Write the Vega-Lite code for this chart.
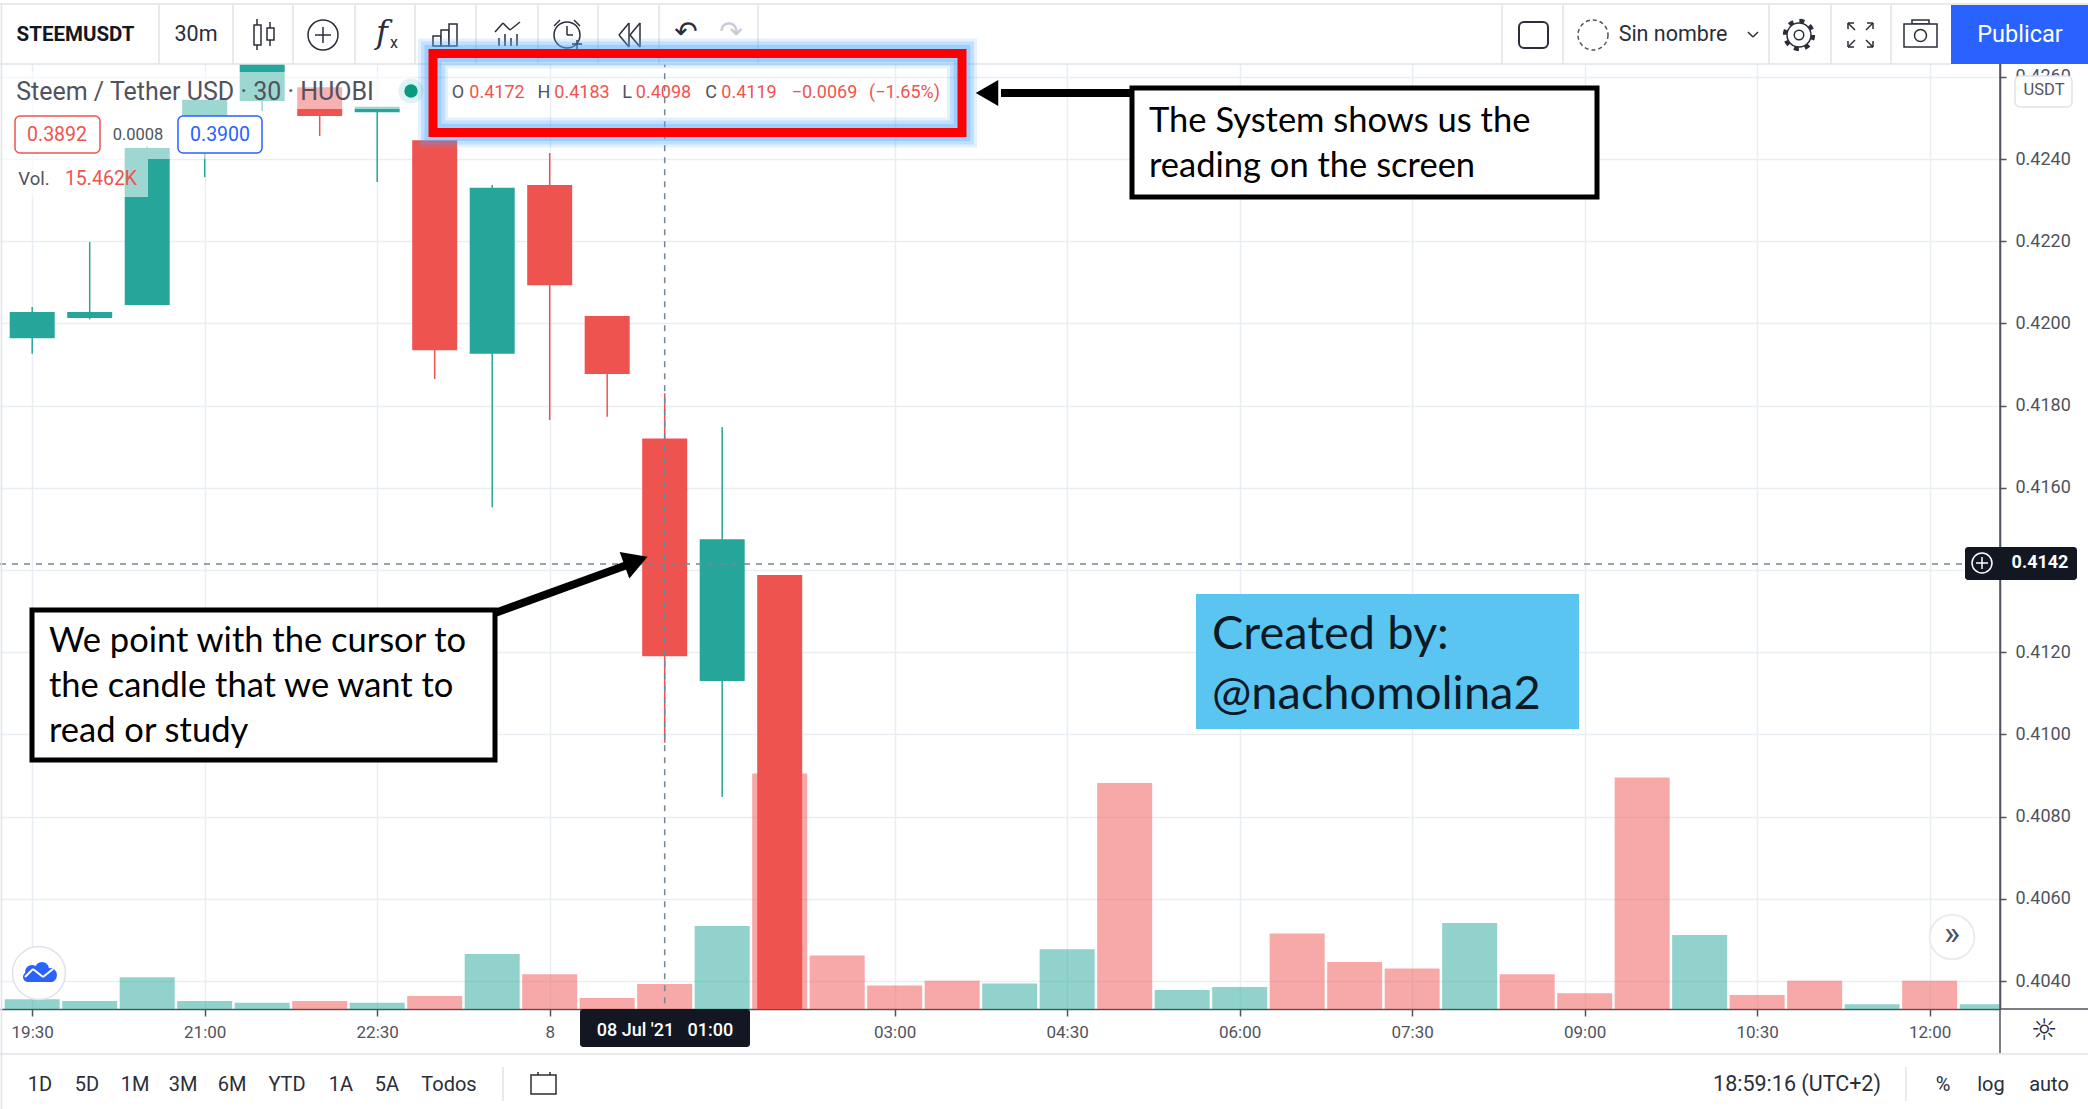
{
"$schema":"https://vega.github.io/schema/vega-lite/v6.json",
"width":2000,"height":1009,
"autosize":{"type":"none"},
"padding":{"left":0,"top":0,"right":88,"bottom":100},
"background":"#ffffff",
"config":{"view":{"stroke":null},"text":{"font":"Roboto","baseline":"middle"},"rule":{"strokeCap":"butt"}},
"datasets":{
"candles":[
{"time":"2021-07-07T19:30:00Z","open":0.41964,"high":0.4204,"low":0.41926,"close":0.42028,"dir":"up"},
{"time":"2021-07-07T20:00:00Z","open":0.42013,"high":0.42198,"low":0.4201,"close":0.42028,"dir":"up"},
{"time":"2021-07-07T20:30:00Z","open":0.42045,"high":0.4243,"low":0.42045,"close":0.42427,"dir":"up"},
{"time":"2021-07-07T21:00:00Z","open":0.425,"high":0.42544,"low":0.42356,"close":0.42544,"dir":"up"},
{"time":"2021-07-07T21:30:00Z","open":0.42541,"high":0.4272,"low":0.42517,"close":0.4272,"dir":"up"},
{"time":"2021-07-07T22:00:00Z","open":0.42575,"high":0.42575,"low":0.42456,"close":0.42505,"dir":"down"},
{"time":"2021-07-07T22:30:00Z","open":0.42514,"high":0.42527,"low":0.42344,"close":0.42527,"dir":"up"},
{"time":"2021-07-07T23:00:00Z","open":0.42446,"high":0.42446,"low":0.41865,"close":0.41935,"dir":"down"},
{"time":"2021-07-07T23:30:00Z","open":0.41926,"high":0.42337,"low":0.41553,"close":0.4233,"dir":"up"},
{"time":"2021-07-08T00:00:00Z","open":0.42337,"high":0.42415,"low":0.41765,"close":0.42093,"dir":"down"},
{"time":"2021-07-08T00:30:00Z","open":0.42018,"high":0.42018,"low":0.41773,"close":0.41877,"dir":"down"},
{"time":"2021-07-08T01:00:00Z","open":0.4172,"high":0.4183,"low":0.4098,"close":0.4119,"dir":"down"},
{"time":"2021-07-08T01:30:00Z","open":0.4113,"high":0.41748,"low":0.40848,"close":0.41475,"dir":"up"},
{"time":"2021-07-08T02:00:00Z","open":0.41388,"high":0.41388,"low":0.4,"close":0.4,"dir":"down"}
],
"volumes":[
{"time":"2021-07-07T19:30:00Z","vol":6.0,"dir":"up"},
{"time":"2021-07-07T20:00:00Z","vol":4.9,"dir":"up"},
{"time":"2021-07-07T20:30:00Z","vol":19.6,"dir":"up"},
{"time":"2021-07-07T21:00:00Z","vol":4.9,"dir":"up"},
{"time":"2021-07-07T21:30:00Z","vol":3.9,"dir":"up"},
{"time":"2021-07-07T22:00:00Z","vol":4.9,"dir":"down"},
{"time":"2021-07-07T22:30:00Z","vol":3.9,"dir":"up"},
{"time":"2021-07-07T23:00:00Z","vol":8.0,"dir":"down"},
{"time":"2021-07-07T23:30:00Z","vol":34.0,"dir":"up"},
{"time":"2021-07-08T00:00:00Z","vol":21.4,"dir":"down"},
{"time":"2021-07-08T00:30:00Z","vol":6.8,"dir":"down"},
{"time":"2021-07-08T01:00:00Z","vol":15.462,"dir":"down"},
{"time":"2021-07-08T01:30:00Z","vol":51.3,"dir":"up"},
{"time":"2021-07-08T02:00:00Z","vol":145.5,"dir":"down"},
{"time":"2021-07-08T02:30:00Z","vol":33.0,"dir":"down"},
{"time":"2021-07-08T03:00:00Z","vol":14.6,"dir":"down"},
{"time":"2021-07-08T03:30:00Z","vol":17.5,"dir":"down"},
{"time":"2021-07-08T04:00:00Z","vol":15.7,"dir":"up"},
{"time":"2021-07-08T04:30:00Z","vol":36.9,"dir":"up"},
{"time":"2021-07-08T05:00:00Z","vol":139.7,"dir":"down"},
{"time":"2021-07-08T05:30:00Z","vol":11.7,"dir":"up"},
{"time":"2021-07-08T06:00:00Z","vol":13.6,"dir":"up"},
{"time":"2021-07-08T06:30:00Z","vol":46.6,"dir":"down"},
{"time":"2021-07-08T07:00:00Z","vol":29.0,"dir":"down"},
{"time":"2021-07-08T07:30:00Z","vol":25.1,"dir":"down"},
{"time":"2021-07-08T08:00:00Z","vol":53.1,"dir":"up"},
{"time":"2021-07-08T08:30:00Z","vol":21.4,"dir":"down"},
{"time":"2021-07-08T09:00:00Z","vol":9.7,"dir":"down"},
{"time":"2021-07-08T09:30:00Z","vol":143.0,"dir":"down"},
{"time":"2021-07-08T10:00:00Z","vol":45.7,"dir":"up"},
{"time":"2021-07-08T10:30:00Z","vol":8.7,"dir":"down"},
{"time":"2021-07-08T11:00:00Z","vol":17.5,"dir":"down"},
{"time":"2021-07-08T11:30:00Z","vol":2.9,"dir":"up"},
{"time":"2021-07-08T12:00:00Z","vol":17.5,"dir":"down"},
{"time":"2021-07-08T12:30:00Z","vol":2.9,"dir":"up"}
]
},
"resolve":{"scale":{"x":"independent","y":"independent","color":"independent"}},
"layer":[
{"data":{"name":"volumes"},
 "mark":{"type":"bar","size":55,"opacity":0.5,"clip":true},
 "encoding":{
  "x":{"field":"time","type":"temporal","scale":{"type":"utc","padding":0,"domain":["2021-07-07T19:13:12Z","2021-07-08T12:36:42Z"]},"axis":null},
  "y":{"field":"vol","type":"quantitative","stack":null,"scale":{"domain":[0,623.6]},"axis":null},
  "color":{"field":"dir","type":"nominal","scale":{"domain":["up","down"],"range":["#26a69a","#ef5350"]},"legend":null}
 }},
{"encoding":{
  "x":{"field":"time","type":"temporal","title":null,"scale":{"type":"utc","padding":0,"domain":["2021-07-07T19:13:12Z","2021-07-08T12:36:42Z"]},
   "axis":{"orient":"bottom","title":null,"values":["2021-07-07T19:30:00Z","2021-07-07T21:00:00Z","2021-07-07T22:30:00Z","2021-07-08T00:00:00Z","2021-07-08T03:00:00Z","2021-07-08T04:30:00Z","2021-07-08T06:00:00Z","2021-07-08T07:30:00Z","2021-07-08T09:00:00Z","2021-07-08T10:30:00Z","2021-07-08T12:00:00Z"],
    "labelExpr":"utcFormat(datum.value,'%H:%M')=='00:00'?'8':utcFormat(datum.value,'%H:%M')",
    "grid":true,"gridColor":"#e8eef4","gridWidth":1.5,"domainColor":"#50535e","domainWidth":1.5,"tickColor":"#50535e","tickSize":7,"tickWidth":1.5,
    "labelFont":"Roboto","labelFontSize":17,"labelColor":"#50535e","labelPadding":8,"labelOverlap":false,"labelFlush":false,"labelBound":false}},
  "y":{"type":"quantitative","scale":{"domain":[0.40332,0.42787]}}
 },
 "layer":[
 {"data":{"name":"candles"},
  "mark":{"type":"rule","strokeWidth":1.5,"clip":true},
  "encoding":{
   "y":{"field":"low","type":"quantitative","title":null,"scale":{"domain":[0.40332,0.42787]},
    "axis":{"orient":"right","title":null,"values":[0.404,0.406,0.408,0.41,0.412,0.414,0.416,0.418,0.42,0.422,0.424,0.426],"labelExpr":"abs(datum.value-0.414)<0.0001?'':format(datum.value,'.4f')",
     "grid":true,"gridColor":"#e8eef4","gridWidth":1.5,"domainColor":"#50535e","domainWidth":1.5,"tickColor":"#50535e","tickSize":6,"tickWidth":1.5,
     "labelFont":"Roboto","labelFontSize":18,"labelColor":"#50535e","labelPadding":9,"labelOverlap":false,"labelFlush":false,"labelBound":false}},
   "y2":{"field":"high"},
   "color":{"field":"dir","type":"nominal","scale":{"domain":["up","down"],"range":["#26a69a","#ef5350"]},"legend":null}
  }},
 {"data":{"name":"candles"},
  "mark":{"type":"bar","size":45,"clip":true},
  "encoding":{
   "y":{"field":"open","type":"quantitative","scale":{"domain":[0.40332,0.42787]}},
   "y2":{"field":"close"},
   "color":{"field":"dir","type":"nominal","scale":{"domain":["up","down"],"range":["#26a69a","#ef5350"]},"legend":null}
  }},
 {"data":{"values":[{"time":"2021-07-08T01:00:00Z","price":0.42784,"price2":0.40332}]},
  "mark":{"type":"rule","strokeWidth":1.5,"color":"#758696","strokeDash":[6,6]},
  "encoding":{"y":{"field":"price","type":"quantitative","scale":{"domain":[0.40332,0.42787]}},"y2":{"field":"price2"}}},
 {"data":{"values":[{"time":"2021-07-07T19:13:12Z","time2":"2021-07-08T12:36:42Z","price":0.41415}]},
  "mark":{"type":"rule","strokeWidth":1.5,"color":"#758696","strokeDash":[6,6]},
  "encoding":{"x2":{"field":"time2"},"y":{"field":"price","type":"quantitative","scale":{"domain":[0.40332,0.42787]}}}}
 ]},
{"encoding":{
  "x":{"field":"u","type":"quantitative","scale":{"domain":[0,2000],"padding":0},"axis":null},
  "y":{"field":"v","type":"quantitative","scale":{"domain":[1009,0],"padding":0},"axis":null}
 },
 "layer":[
 {"data":{"values":[{"u":0,"u2":2088,"v":0,"v2":64}]},"mark":{"type":"rect","fill":"#ffffff"},"encoding":{"x2":{"field":"u2"},"y2":{"field":"v2"}}},
 {"data":{"values":[{"u":0,"u2":290,"v":72,"v2":117},{"u":290,"u2":415,"v":72,"v2":109},{"u":0,"u2":265,"v":117,"v2":159},{"u":0,"u2":148,"v":159,"v2":197}]},"mark":{"type":"rect","fill":"#ffffff","opacity":0.55},"encoding":{"x2":{"field":"u2"},"y2":{"field":"v2"}}},
 {"data":{"values":[
  {"u":0,"u2":2088,"v":4,"v2":4},{"u":0,"u2":1951,"v":64,"v2":64},{"u":0,"u2":2088,"v":1054,"v2":1054},{"u":1.5,"u2":1.5,"v":4,"v2":1109},
  {"u":159,"u2":159,"v":5,"v2":64},{"u":233,"u2":233,"v":5,"v2":64},{"u":293,"u2":293,"v":5,"v2":64},{"u":355,"u2":355,"v":5,"v2":64},{"u":415,"u2":415,"v":5,"v2":64},{"u":476,"u2":476,"v":5,"v2":64},{"u":538,"u2":538,"v":5,"v2":64},{"u":598,"u2":598,"v":5,"v2":64},{"u":659,"u2":659,"v":5,"v2":64},{"u":758,"u2":758,"v":5,"v2":64},
  {"u":1502,"u2":1502,"v":5,"v2":64},{"u":1563,"u2":1563,"v":5,"v2":64},{"u":1769,"u2":1769,"v":5,"v2":64},{"u":1831,"u2":1831,"v":5,"v2":64},{"u":1891,"u2":1891,"v":5,"v2":64},
  {"u":503,"u2":503,"v":1067,"v2":1101},{"u":1906,"u2":1906,"v":1067,"v2":1101}
  ]},"mark":{"type":"rule","stroke":"#e0e3eb","strokeWidth":1.5},"encoding":{"x2":{"field":"u2"},"y2":{"field":"v2"}}},
 {"data":{"values":[{"u":2000,"u2":2000,"v":64,"v2":1053},{"u":2000,"u2":2088,"v":1009,"v2":1009}]},"mark":{"type":"rule","stroke":"#50535e","strokeWidth":1.5},"encoding":{"x2":{"field":"u2"},"y2":{"field":"v2"}}},
 {"data":{"values":[
  {"u":257,"u2":257,"v":19,"v2":50},{"u":270,"u2":270,"v":22,"v2":46},
  {"u":323,"u2":323,"v":27,"v2":43},{"u":315,"u2":331,"v":35,"v2":35},
  {"u":499,"u2":499,"v":38,"v2":46},{"u":505,"u2":505,"v":34,"v2":46},{"u":511,"u2":511,"v":38,"v2":46},{"u":517,"u2":517,"v":34,"v2":46},
  {"u":495,"u2":503,"v":32,"v2":23},{"u":503,"u2":510,"v":23,"v2":30},{"u":510,"u2":520,"v":30,"v2":22},
  {"u":577,"u2":577,"v":40,"v2":49},{"u":572,"u2":582,"v":44,"v2":44},{"u":567,"u2":567,"v":26,"v2":35},{"u":567,"u2":573,"v":35,"v2":35},{"u":554,"u2":560,"v":26,"v2":20},{"u":574,"u2":580,"v":20,"v2":26},
  {"u":619,"u2":629,"v":35,"v2":23},{"u":619,"u2":629,"v":35,"v2":47},{"u":629,"u2":629,"v":23,"v2":47},{"u":630,"u2":640,"v":35,"v2":23},{"u":630,"u2":640,"v":35,"v2":47},{"u":640,"u2":640,"v":23,"v2":47},
  {"u":1748,"u2":1753,"v":32,"v2":37},{"u":1753,"u2":1758,"v":37,"v2":32},
  {"u":1848,"u2":1848,"v":23,"v2":29},{"u":1848,"u2":1854,"v":23,"v2":23},{"u":1848,"u2":1855,"v":23,"v2":30},
  {"u":1873,"u2":1873,"v":23,"v2":29},{"u":1867,"u2":1873,"v":23,"v2":23},{"u":1866,"u2":1873,"v":30,"v2":23},
  {"u":1848,"u2":1848,"v":41,"v2":47},{"u":1848,"u2":1854,"v":47,"v2":47},{"u":1848,"u2":1855,"v":47,"v2":40},
  {"u":1873,"u2":1873,"v":41,"v2":47},{"u":1867,"u2":1873,"v":47,"v2":47},{"u":1866,"u2":1873,"v":40,"v2":47},
  {"u":531,"u2":556,"v":1081,"v2":1081},{"u":538,"u2":538,"v":1072,"v2":1078},{"u":550,"u2":550,"v":1072,"v2":1078},{"u":531,"u2":545,"v":1089,"v2":1089}
  ]},"mark":{"type":"rule","stroke":"#2a2e39","strokeWidth":1.5},"encoding":{"x2":{"field":"u2"},"y2":{"field":"v2"}}},
 {"data":{"values":[
  {"u":254,"u2":261,"v":25,"v2":45},{"u":267,"u2":274,"v":28,"v2":40},
  {"u":433,"u2":441,"v":36,"v2":46},{"u":441,"u2":449,"v":30,"v2":46},{"u":449,"u2":457,"v":24,"v2":46},
  {"u":1912,"u2":1929,"v":20,"v2":24},{"u":1904,"u2":1937,"v":24,"v2":47},
  {"u":531,"u2":556,"v":1075,"v2":1094}
  ]},"mark":{"type":"rect","fill":"#ffffff","stroke":"#2a2e39","strokeWidth":1.5},"encoding":{"x2":{"field":"u2"},"y2":{"field":"v2"}}},
 {"data":{"values":[{"u":1519,"u2":1548,"v":22,"v2":48}]},"mark":{"type":"rect","fill":"#ffffff","stroke":"#2a2e39","strokeWidth":2,"cornerRadius":5},"encoding":{"x2":{"field":"u2"},"y2":{"field":"v2"}}},
 {"data":{"values":[{"u":323,"v":35}]},"mark":{"type":"point","shape":"circle","size":900,"stroke":"#2a2e39","strokeWidth":1.5,"opacity":1}},
 {"data":{"values":[{"u":1920.5,"v":35.5}]},"mark":{"type":"point","shape":"circle","size":144,"stroke":"#2a2e39","strokeWidth":1.5,"opacity":1}},
 {"data":{"values":[{"u":567,"v":35}]},"mark":{"type":"point","shape":"circle","size":676,"stroke":"#2a2e39","strokeWidth":1.5,"opacity":1}},
 {"data":{"values":[{"u":1593,"v":35}]},"mark":{"type":"point","shape":"circle","size":900,"stroke":"#50535e","strokeWidth":1.5,"strokeDash":[4,3],"opacity":1}},
 {"data":{"values":[{"u":1799,"v":35}]},"mark":{"type":"point","shape":"circle","size":576,"stroke":"#2a2e39","strokeWidth":1.5,"opacity":1}},
 {"data":{"values":[{"u":1799,"v":35}]},"mark":{"type":"point","shape":"circle","size":90,"stroke":"#2a2e39","strokeWidth":1.5,"opacity":1}},
 {"data":{"values":[{"u":1799,"v":35}]},"mark":{"type":"point","shape":"circle","size":800,"stroke":"#2a2e39","strokeWidth":4,"strokeDash":[5,6.1],"opacity":1}},
 {"data":{"values":[{"u":2015,"u2":2072,"v":76,"v2":107}]},"mark":{"type":"rect","fill":"#ffffff","stroke":"#e0e3eb","strokeWidth":1.5,"cornerRadius":5},"encoding":{"x2":{"field":"u2"},"y2":{"field":"v2"}}},
 {"data":{"values":[{"u":15,"u2":100,"v":116,"v2":153}]},"mark":{"type":"rect","fill":"#ffffff","stroke":"#ef5350","strokeWidth":1.5,"cornerRadius":5},"encoding":{"x2":{"field":"u2"},"y2":{"field":"v2"}}},
 {"data":{"values":[{"u":178,"u2":262,"v":116,"v2":153}]},"mark":{"type":"rect","fill":"#ffffff","stroke":"#2962ff","strokeWidth":1.5,"cornerRadius":5},"encoding":{"x2":{"field":"u2"},"y2":{"field":"v2"}}},
 {"data":{"values":[{"u":1951,"u2":2088,"v":5,"v2":64}]},"mark":{"type":"rect","fill":"#2962ff"},"encoding":{"x2":{"field":"u2"},"y2":{"field":"v2"}}},
 {"data":{"values":[{"u":580,"u2":750,"v":1009,"v2":1047},{"u":1965,"u2":2077,"v":547,"v2":580}]},"mark":{"type":"rect","fill":"#131722","cornerRadius":3},"encoding":{"x2":{"field":"u2"},"y2":{"field":"v2"}}},
 {"data":{"values":[{"u":1982,"v":563}]},"mark":{"type":"point","shape":"circle","size":400,"stroke":"#ffffff","strokeWidth":1.5,"opacity":1}},
 {"data":{"values":[{"u":1976,"u2":1988,"v":563,"v2":563},{"u":1982,"u2":1982,"v":557,"v2":569}]},"mark":{"type":"rule","stroke":"#ffffff","strokeWidth":1.5},"encoding":{"x2":{"field":"u2"},"y2":{"field":"v2"}}},
 {"data":{"values":[{"u":411,"v":91}]},"mark":{"type":"point","shape":"circle","size":625,"filled":true,"color":"#26a69a","opacity":0.14}},
 {"data":{"values":[{"u":411,"v":91}]},"mark":{"type":"point","shape":"circle","size":180,"filled":true,"color":"#089981","opacity":1}},
 {"data":{"values":[{"u":39,"v":973}]},"mark":{"type":"point","shape":"circle","size":2800,"filled":true,"fill":"#ffffff","stroke":"#e0e3eb","strokeWidth":1.5,"opacity":1}},
 {"data":{"values":[{"u":1952,"v":937}]},"mark":{"type":"point","shape":"circle","size":2000,"filled":true,"fill":"#ffffff","stroke":"#e9ecf1","strokeWidth":2,"opacity":1}},
 {"data":{"values":[{"u":23,"u2":56,"v":972,"v2":982}]},"mark":{"type":"rect","fill":"#2962ff","cornerRadius":5},"encoding":{"x2":{"field":"u2"},"y2":{"field":"v2"}}},
 {"data":{"values":[{"u":32,"v":972},{"u":42,"v":969},{"u":50,"v":975}]},"mark":{"type":"point","shape":"circle","size":196,"filled":true,"color":"#2962ff","opacity":1}},
 {"data":{"values":[{"u":25,"u2":33,"v":977,"v2":969},{"u":33,"u2":43,"v":969,"v2":977},{"u":43,"u2":53,"v":977,"v2":969}]},"mark":{"type":"rule","stroke":"#ffffff","strokeWidth":2},"encoding":{"x2":{"field":"u2"},"y2":{"field":"v2"}}},
 {"data":{"values":[{"u":433,"u2":962,"v":53.5,"v2":132.5}]},"mark":{"type":"rect","fill":"transparent","stroke":"#4da6ff","strokeWidth":30,"opacity":0.15},"encoding":{"x2":{"field":"u2"},"y2":{"field":"v2"}}},
 {"data":{"values":[{"u":433,"u2":962,"v":53.5,"v2":132.5}]},"mark":{"type":"rect","fill":"transparent","stroke":"#4da6ff","strokeWidth":24,"opacity":0.22},"encoding":{"x2":{"field":"u2"},"y2":{"field":"v2"}}},
 {"data":{"values":[{"u":433,"u2":962,"v":53.5,"v2":132.5}]},"mark":{"type":"rect","fill":"transparent","stroke":"#4da6ff","strokeWidth":17,"opacity":0.3},"encoding":{"x2":{"field":"u2"},"y2":{"field":"v2"}}},
 {"data":{"values":[{"u":433,"u2":962,"v":53.5,"v2":132.5}]},"mark":{"type":"rect","fill":"transparent","stroke":"#ff0000","strokeWidth":9},"encoding":{"x2":{"field":"u2"},"y2":{"field":"v2"}}},
 {"data":{"values":[{"u":1001,"u2":1132,"v":93,"v2":93},{"u":495,"u2":638,"v":613,"v2":561}]},"mark":{"type":"rule","stroke":"#000000","strokeWidth":8},"encoding":{"x2":{"field":"u2"},"y2":{"field":"v2"}}},
 {"data":{"values":[{"u":987,"v":93}]},"mark":{"type":"point","shape":"triangle-left","size":676,"filled":true,"color":"#000000","opacity":1}},
 {"data":{"values":[{"u":636,"v":561}]},"mark":{"type":"point","shape":"triangle-right","angle":340,"size":800,"filled":true,"color":"#000000","opacity":1}},
 {"data":{"values":[{"u":1132,"u2":1597,"v":88,"v2":197},{"u":32,"u2":495,"v":610,"v2":760}]},"mark":{"type":"rect","fill":"#ffffff","stroke":"#000000","strokeWidth":5},"encoding":{"x2":{"field":"u2"},"y2":{"field":"v2"}}},
 {"data":{"values":[{"u":1196,"u2":1579,"v":594,"v2":729}]},"mark":{"type":"rect","fill":"#5bc5f2"},"encoding":{"x2":{"field":"u2"},"y2":{"field":"v2"}}},
 {"data":{"values":[{"u":1149,"v":122,"label":"The System shows us the"},{"u":1149,"v":167,"label":"reading on the screen"},{"u":49,"v":642,"label":"We point with the cursor to"},{"u":49,"v":687,"label":"the candle that we want to"},{"u":49,"v":732,"label":"read or study"}]},"mark":{"type":"text","font":"Lato","fontSize":34.5,"align":"left","color":"#000000"},"encoding":{"text":{"field":"label"}}},
 {"data":{"values":[{"u":1212,"v":635,"label":"Created by:"},{"u":1212,"v":695,"label":"@nachomolina2"}]},"mark":{"type":"text","font":"Lato","fontSize":47,"align":"left","color":"#0d1a26"},"encoding":{"text":{"field":"label"}}},
 {"data":{"values":[{"u":75.5,"v":35,"label":"STEEMUSDT"}]},"mark":{"type":"text","fontSize":20.5,"fontWeight":"bold","align":"center","color":"#131722"},"encoding":{"text":{"field":"label"}}},
 {"data":{"values":[{"u":196,"v":35,"label":"30m"},{"u":1673,"v":35,"label":"Sin nombre"}]},"mark":{"type":"text","fontSize":21.5,"align":"center","color":"#2a2e39"},"encoding":{"text":{"field":"label"}}},
 {"data":{"values":[{"u":2020,"v":35,"label":"Publicar"}]},"mark":{"type":"text","fontSize":23.5,"align":"center","color":"#ffffff"},"encoding":{"text":{"field":"label"}}},
 {"data":{"values":[{"u":195,"v":92,"label":"Steem / Tether USD · 30 · HUOBI"}]},"mark":{"type":"text","fontSize":25,"align":"center","color":"#50535e"},"encoding":{"text":{"field":"label"}}},
 {"data":{"values":[{"u":458,"v":93,"label":"O"},{"u":544,"v":93,"label":"H"},{"u":627,"v":93,"label":"L"},{"u":711,"v":93,"label":"C"}]},"mark":{"type":"text","fontSize":18,"align":"center","color":"#50535e"},"encoding":{"text":{"field":"label"}}},
 {"data":{"values":[{"u":497,"v":93,"label":"0.4172"},{"u":582,"v":93,"label":"0.4183"},{"u":663.5,"v":93,"label":"0.4098"},{"u":749,"v":93,"label":"0.4119"},{"u":824.5,"v":93,"label":"−0.0069"},{"u":904.5,"v":93,"label":"(−1.65%)"}]},"mark":{"type":"text","fontSize":18,"align":"center","color":"#ef5350"},"encoding":{"text":{"field":"label"}}},
 {"data":{"values":[{"u":57,"v":135,"label":"0.3892"},{"u":101,"v":179,"label":"15.462K"}]},"mark":{"type":"text","fontSize":19.5,"align":"center","color":"#ef5350"},"encoding":{"text":{"field":"label"}}},
 {"data":{"values":[{"u":220,"v":135,"label":"0.3900"}]},"mark":{"type":"text","fontSize":19.5,"align":"center","color":"#2962ff"},"encoding":{"text":{"field":"label"}}},
 {"data":{"values":[{"u":138,"v":135,"label":"0.0008"},{"u":2044,"v":90,"label":"USDT"}]},"mark":{"type":"text","fontSize":16.5,"align":"center","color":"#50535e"},"encoding":{"text":{"field":"label"}}},
 {"data":{"values":[{"u":34,"v":179,"label":"Vol."}]},"mark":{"type":"text","fontSize":18.5,"align":"center","color":"#50535e"},"encoding":{"text":{"field":"label"}}},
 {"data":{"values":[{"u":665,"v":1031,"label":"08 Jul '21\u00a0\u00a0\u00a001:00"}]},"mark":{"type":"text","fontSize":18,"fontWeight":500,"align":"center","color":"#ffffff"},"encoding":{"text":{"field":"label"}}},
 {"data":{"values":[{"u":2040,"v":563,"label":"0.4142"}]},"mark":{"type":"text","fontSize":18,"fontWeight":700,"align":"center","color":"#ffffff"},"encoding":{"text":{"field":"label"}}},
 {"data":{"values":[{"u":40,"v":1085,"label":"1D"},{"u":87,"v":1085,"label":"5D"},{"u":135,"v":1085,"label":"1M"},{"u":183,"v":1085,"label":"3M"},{"u":232,"v":1085,"label":"6M"},{"u":287,"v":1085,"label":"YTD"},{"u":341,"v":1085,"label":"1A"},{"u":387,"v":1085,"label":"5A"},{"u":449,"v":1085,"label":"Todos"},{"u":1943,"v":1085,"label":"%"},{"u":1991,"v":1085,"label":"log"},{"u":2049,"v":1085,"label":"auto"}]},"mark":{"type":"text","fontSize":20,"align":"center","color":"#2a2e39"},"encoding":{"text":{"field":"label"}}},
 {"data":{"values":[{"u":1797,"v":1085,"label":"18:59:16 (UTC+2)"}]},"mark":{"type":"text","fontSize":21.5,"align":"center","color":"#2a2e39"},"encoding":{"text":{"field":"label"}}},
 {"data":{"values":[{"u":382,"v":33,"label":"f"}]},"mark":{"type":"text","font":"DejaVu Serif","fontStyle":"italic","fontSize":32,"align":"center","color":"#2a2e39"},"encoding":{"text":{"field":"label"}}},
 {"data":{"values":[{"u":394,"v":43,"label":"x"}]},"mark":{"type":"text","fontSize":16,"align":"center","color":"#2a2e39"},"encoding":{"text":{"field":"label"}}},
 {"data":{"values":[{"u":686,"v":33,"label":"↶"}]},"mark":{"type":"text","font":"DejaVu Sans","fontSize":28,"align":"center","color":"#2a2e39"},"encoding":{"text":{"field":"label"}}},
 {"data":{"values":[{"u":731,"v":33,"label":"↷"}]},"mark":{"type":"text","font":"DejaVu Sans","fontSize":28,"align":"center","color":"#c8ccd6"},"encoding":{"text":{"field":"label"}}},
 {"data":{"values":[{"u":2044,"v":1031,"label":"☼"}]},"mark":{"type":"text","font":"DejaVu Sans","fontSize":30,"align":"center","color":"#2a2e39"},"encoding":{"text":{"field":"label"}}},
 {"data":{"values":[{"u":1952,"v":935,"label":"»"}]},"mark":{"type":"text","fontSize":34,"align":"center","color":"#50535e"},"encoding":{"text":{"field":"label"}}}
 ]}
]
}
